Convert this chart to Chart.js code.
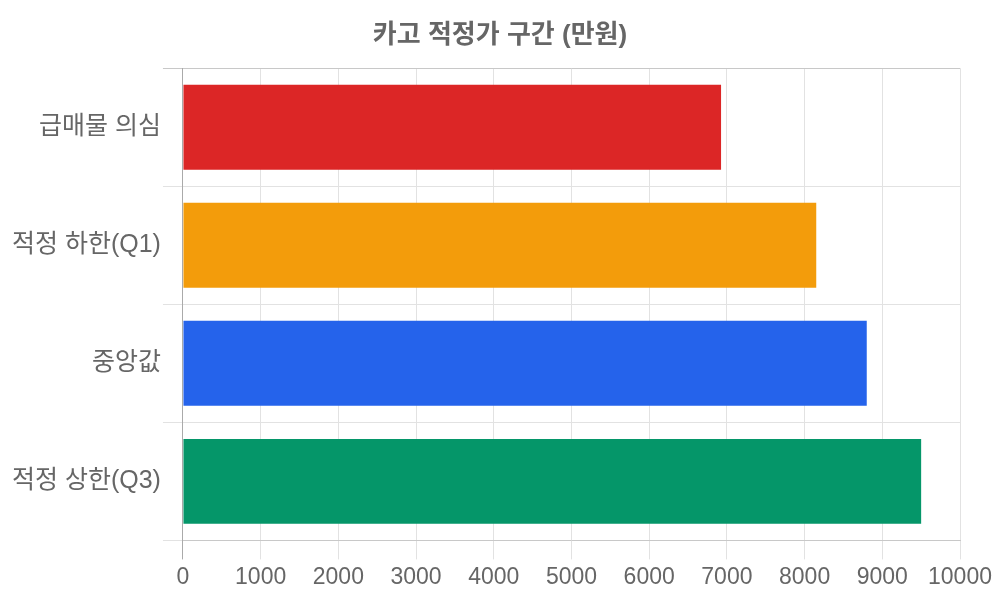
<!DOCTYPE html>
<html>
<head>
<meta charset="utf-8">
<script src="https://cdn.jsdelivr.net/npm/chart.js@4.4.1/dist/chart.umd.min.js"></script>
<style>
  html, body { margin: 0; padding: 0; background: #fff; }
  #wrap { width: 1000px; height: 600px; }
</style>
</head>
<body>
<div id="wrap"><canvas id="grafico"></canvas></div>
<script>
// dati (만원)
const categorie = ['급매물 의심', '적정 하한(Q1)', '중앙값', '적정 상한(Q3)'];
const valori = [6925, 8150, 8800, 9500];
const colori = ['#dc2626', '#f39c0b', '#2563eb', '#059669'];
const titolo = '카고 적정가 구간 (만원)';

const fontBase = "'Liberation Sans', 'Noto Sans CJK KR', sans-serif";

document.addEventListener('DOMContentLoaded', () => {
    disegnaGrafico();
});

function disegnaGrafico()
{
    const ctx = document.getElementById('grafico').getContext('2d');

    new Chart(ctx, {
        type: 'bar',
        data: {
            labels: categorie,
            datasets: [{
                data: valori,
                backgroundColor: colori,
                borderWidth: 0
            }]
        },
        options: {
            indexAxis: 'y',
            responsive: true,
            maintainAspectRatio: false,
            animation: false,
            // padding simmetrico così il titolo resta centrato
            layout: { padding: { left: 10, right: 10, top: 13, bottom: 5 } },
            scales: {
                x: {
                    min: 0,
                    max: 10000,
                    // spazio extra a destra per l'etichetta "10000"
                    afterFit: (scale) => { scale.paddingRight = 40; },
                    ticks: {
                        stepSize: 1000,
                        color: '#666',
                        padding: 4,
                        font: { family: fontBase, size: 23 },
                        callback: (v) => String(v)   // niente separatore delle migliaia
                    },
                    grid: {
                        color: (c) => c.index === 0 ? '#aaa' : '#e2e2e2',
                        tickLength: 19
                    },
                    border: { color: '#c8c8c8' }
                },
                y: {
                    ticks: {
                        color: '#666',
                        padding: 2,
                        font: { family: fontBase, size: 25 }
                    },
                    grid: {
                        color: (c) => c.index === 0 ? '#c8c8c8' : '#e2e2e2',
                        tickLength: 20
                    },
                    border: { color: '#aaa' }
                }
            },
            plugins: {
                legend: { display: false },
                tooltip: { enabled: false },
                title: {
                    display: true,
                    text: titolo,
                    color: '#666',
                    font: { family: fontBase, size: 26, weight: 'bold' },
                    padding: { top: 7, bottom: 17 }
                }
            }
        }
    });
}
</script>
</body>
</html>
